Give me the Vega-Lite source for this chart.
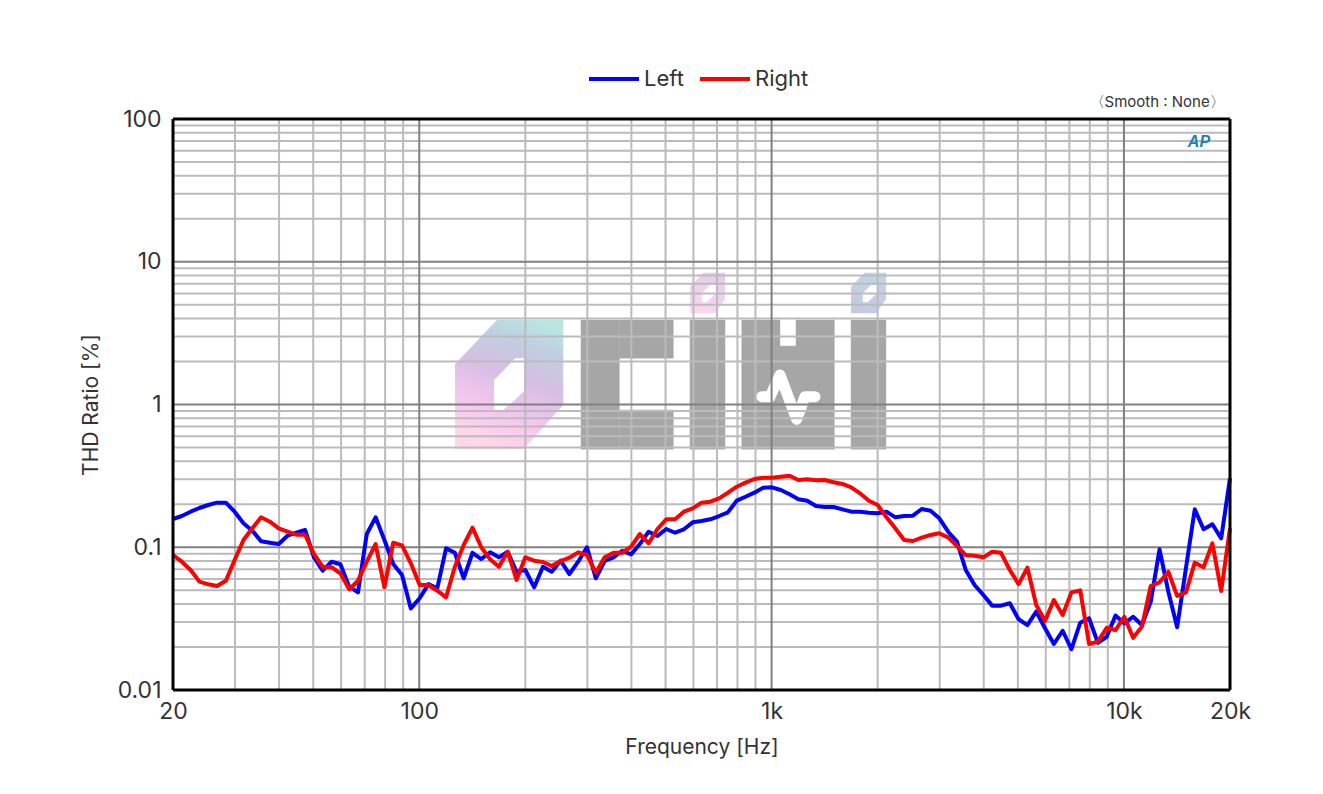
{
"$schema":"https://vega.github.io/schema/vega-lite/v6.json",
"width":1057,"height":571,
"autosize":"none",
"padding":{"left":173,"top":119,"right":93,"bottom":104},
"background":"#ffffff",
"view":{"stroke":null},
"config":{"font":"Inter"},
"datasets":{
"series":[
{"f":20,"channel":"Left","v":0.1577},{"f":21.19,"channel":"Left","v":0.1655},{"f":22.44,"channel":"Left","v":0.1775},{"f":23.77,"channel":"Left","v":0.1884},{"f":25.18,"channel":"Left","v":0.1977},{"f":26.67,"channel":"Left","v":0.2053},{"f":28.25,"channel":"Left","v":0.2053},{"f":29.92,"channel":"Left","v":0.1775},{"f":31.7,"channel":"Left","v":0.1471},{"f":33.58,"channel":"Left","v":0.1306},
{"f":35.57,"channel":"Left","v":0.11},{"f":37.67,"channel":"Left","v":0.1076},{"f":39.91,"channel":"Left","v":0.1053},{"f":42.27,"channel":"Left","v":0.1205},{"f":44.77,"channel":"Left","v":0.1264},{"f":47.43,"channel":"Left","v":0.1321},{"f":50.24,"channel":"Left","v":0.085},{"f":53.21,"channel":"Left","v":0.0685},{"f":56.37,"channel":"Left","v":0.0792},{"f":59.71,"channel":"Left","v":0.076},
{"f":63.25,"channel":"Left","v":0.053},{"f":66.99,"channel":"Left","v":0.0483},{"f":70.96,"channel":"Left","v":0.1238},{"f":75.17,"channel":"Left","v":0.162},{"f":79.62,"channel":"Left","v":0.1124},{"f":84.34,"channel":"Left","v":0.0763},{"f":89.34,"channel":"Left","v":0.0639},{"f":94.63,"channel":"Left","v":0.0373},{"f":100.24,"channel":"Left","v":0.0439},{"f":106.18,"channel":"Left","v":0.0552},
{"f":112.47,"channel":"Left","v":0.0516},{"f":119.13,"channel":"Left","v":0.0982},{"f":126.19,"channel":"Left","v":0.0915},{"f":133.67,"channel":"Left","v":0.0606},{"f":141.59,"channel":"Left","v":0.0915},{"f":149.98,"channel":"Left","v":0.0827},{"f":158.87,"channel":"Left","v":0.0921},{"f":168.28,"channel":"Left","v":0.085},{"f":178.25,"channel":"Left","v":0.093},{"f":188.81,"channel":"Left","v":0.0674},
{"f":200,"channel":"Left","v":0.0693},{"f":211.9,"channel":"Left","v":0.0524},{"f":224.4,"channel":"Left","v":0.073},{"f":237.7,"channel":"Left","v":0.0674},{"f":251.8,"channel":"Left","v":0.0805},{"f":266.7,"channel":"Left","v":0.0649},{"f":282.5,"channel":"Left","v":0.0792},{"f":299.2,"channel":"Left","v":0.1},{"f":317,"channel":"Left","v":0.0606},{"f":335.8,"channel":"Left","v":0.0801},
{"f":355.7,"channel":"Left","v":0.085},{"f":376.7,"channel":"Left","v":0.0945},{"f":399.1,"channel":"Left","v":0.0892},{"f":422.7,"channel":"Left","v":0.1053},{"f":447.7,"channel":"Left","v":0.1285},{"f":474.3,"channel":"Left","v":0.1198},{"f":502.4,"channel":"Left","v":0.1342},{"f":532.1,"channel":"Left","v":0.1264},{"f":563.7,"channel":"Left","v":0.1336},{"f":597.1,"channel":"Left","v":0.1495},
{"f":632.5,"channel":"Left","v":0.1527},{"f":669.9,"channel":"Left","v":0.157},{"f":709.6,"channel":"Left","v":0.1655},{"f":751.7,"channel":"Left","v":0.1757},{"f":796.2,"channel":"Left","v":0.2119},{"f":843.4,"channel":"Left","v":0.2259},{"f":893.4,"channel":"Left","v":0.2411},{"f":946.3,"channel":"Left","v":0.2613},{"f":1002.4,"channel":"Left","v":0.263},{"f":1061.8,"channel":"Left","v":0.2518},
{"f":1124.7,"channel":"Left","v":0.2349},{"f":1191.3,"channel":"Left","v":0.2167},{"f":1261.9,"channel":"Left","v":0.2119},{"f":1336.7,"channel":"Left","v":0.1945},{"f":1415.9,"channel":"Left","v":0.1914},{"f":1499.8,"channel":"Left","v":0.1914},{"f":1588.7,"channel":"Left","v":0.1844},{"f":1682.8,"channel":"Left","v":0.1775},{"f":1782.5,"channel":"Left","v":0.1775},{"f":1888.1,"channel":"Left","v":0.1746},
{"f":2000,"channel":"Left","v":0.173},{"f":2119,"channel":"Left","v":0.1775},{"f":2244,"channel":"Left","v":0.162},{"f":2377,"channel":"Left","v":0.1655},{"f":2518,"channel":"Left","v":0.1664},{"f":2667,"channel":"Left","v":0.1853},{"f":2825,"channel":"Left","v":0.1803},{"f":2992,"channel":"Left","v":0.1595},{"f":3170,"channel":"Left","v":0.1285},{"f":3358,"channel":"Left","v":0.1095},
{"f":3557,"channel":"Left","v":0.0693},{"f":3767,"channel":"Left","v":0.0544},{"f":3991,"channel":"Left","v":0.0463},{"f":4227,"channel":"Left","v":0.039},{"f":4477,"channel":"Left","v":0.039},{"f":4743,"channel":"Left","v":0.0405},{"f":5024,"channel":"Left","v":0.0313},{"f":5321,"channel":"Left","v":0.0285},{"f":5637,"channel":"Left","v":0.0354},{"f":5971,"channel":"Left","v":0.0271},
{"f":6325,"channel":"Left","v":0.021},{"f":6699,"channel":"Left","v":0.026},{"f":7096,"channel":"Left","v":0.0193},{"f":7517,"channel":"Left","v":0.0296},{"f":7962,"channel":"Left","v":0.0318},{"f":8434,"channel":"Left","v":0.0214},{"f":8934,"channel":"Left","v":0.0236},{"f":9463,"channel":"Left","v":0.0332},{"f":10024,"channel":"Left","v":0.0293},{"f":10618,"channel":"Left","v":0.0326},
{"f":11247,"channel":"Left","v":0.0285},{"f":11913,"channel":"Left","v":0.0415},{"f":12619,"channel":"Left","v":0.0967},{"f":13367,"channel":"Left","v":0.0488},{"f":14159,"channel":"Left","v":0.0275},{"f":14998,"channel":"Left","v":0.0716},{"f":15887,"channel":"Left","v":0.1844},{"f":16828,"channel":"Left","v":0.1336},{"f":17825,"channel":"Left","v":0.1448},{"f":18881,"channel":"Left","v":0.1155},{"f":20000,"channel":"Left","v":0.304},
{"f":20,"channel":"Right","v":0.0882},{"f":21.19,"channel":"Right","v":0.0792},{"f":22.44,"channel":"Right","v":0.0693},{"f":23.77,"channel":"Right","v":0.0574},{"f":25.18,"channel":"Right","v":0.055},{"f":26.67,"channel":"Right","v":0.0535},{"f":28.25,"channel":"Right","v":0.0583},{"f":29.92,"channel":"Right","v":0.0814},{"f":31.7,"channel":"Right","v":0.1124},{"f":33.58,"channel":"Right","v":0.1357},
{"f":35.57,"channel":"Right","v":0.1621},{"f":37.67,"channel":"Right","v":0.151},{"f":39.91,"channel":"Right","v":0.1357},{"f":42.27,"channel":"Right","v":0.1285},{"f":44.77,"channel":"Right","v":0.1224},{"f":47.43,"channel":"Right","v":0.1224},{"f":50.24,"channel":"Right","v":0.0897},{"f":53.21,"channel":"Right","v":0.073},{"f":56.37,"channel":"Right","v":0.0724},{"f":59.71,"channel":"Right","v":0.0657},
{"f":63.25,"channel":"Right","v":0.0507},{"f":66.99,"channel":"Right","v":0.0583},{"f":70.96,"channel":"Right","v":0.0792},{"f":75.17,"channel":"Right","v":0.1053},{"f":79.62,"channel":"Right","v":0.0524},{"f":84.34,"channel":"Right","v":0.1076},{"f":89.34,"channel":"Right","v":0.1032},{"f":94.63,"channel":"Right","v":0.0772},{"f":100.24,"channel":"Right","v":0.0544},{"f":106.18,"channel":"Right","v":0.0544},
{"f":112.47,"channel":"Right","v":0.0496},{"f":119.13,"channel":"Right","v":0.0446},{"f":126.19,"channel":"Right","v":0.073},{"f":133.67,"channel":"Right","v":0.1037},{"f":141.59,"channel":"Right","v":0.1371},{"f":149.98,"channel":"Right","v":0.1},{"f":158.87,"channel":"Right","v":0.0823},{"f":168.28,"channel":"Right","v":0.073},{"f":178.25,"channel":"Right","v":0.093},{"f":188.81,"channel":"Right","v":0.059},
{"f":200,"channel":"Right","v":0.085},{"f":211.9,"channel":"Right","v":0.0805},{"f":224.4,"channel":"Right","v":0.0788},{"f":237.7,"channel":"Right","v":0.0739},{"f":251.8,"channel":"Right","v":0.0801},{"f":266.7,"channel":"Right","v":0.0845},{"f":282.5,"channel":"Right","v":0.0921},{"f":299.2,"channel":"Right","v":0.0882},{"f":317,"channel":"Right","v":0.0663},{"f":335.8,"channel":"Right","v":0.085},
{"f":355.7,"channel":"Right","v":0.0915},{"f":376.7,"channel":"Right","v":0.0915},{"f":399.1,"channel":"Right","v":0.1009},{"f":422.7,"channel":"Right","v":0.1238},{"f":447.7,"channel":"Right","v":0.1066},{"f":474.3,"channel":"Right","v":0.1342},{"f":502.4,"channel":"Right","v":0.157},{"f":532.1,"channel":"Right","v":0.157},{"f":563.7,"channel":"Right","v":0.1775},{"f":597.1,"channel":"Right","v":0.1874},
{"f":632.5,"channel":"Right","v":0.2053},{"f":669.9,"channel":"Right","v":0.2085},{"f":709.6,"channel":"Right","v":0.2202},{"f":751.7,"channel":"Right","v":0.2411},{"f":796.2,"channel":"Right","v":0.2655},{"f":843.4,"channel":"Right","v":0.2833},{"f":893.4,"channel":"Right","v":0.3007},{"f":946.3,"channel":"Right","v":0.307},{"f":1002.4,"channel":"Right","v":0.307},{"f":1061.8,"channel":"Right","v":0.3121},
{"f":1124.7,"channel":"Right","v":0.3172},{"f":1191.3,"channel":"Right","v":0.296},{"f":1261.9,"channel":"Right","v":0.2992},{"f":1336.7,"channel":"Right","v":0.2944},{"f":1415.9,"channel":"Right","v":0.296},{"f":1499.8,"channel":"Right","v":0.2851},{"f":1588.7,"channel":"Right","v":0.2774},{"f":1682.8,"channel":"Right","v":0.263},{"f":1782.5,"channel":"Right","v":0.2387},{"f":1888.1,"channel":"Right","v":0.2119},
{"f":2000,"channel":"Right","v":0.1977},{"f":2119,"channel":"Right","v":0.1621},{"f":2244,"channel":"Right","v":0.1357},{"f":2377,"channel":"Right","v":0.1124},{"f":2518,"channel":"Right","v":0.1106},{"f":2667,"channel":"Right","v":0.1167},{"f":2825,"channel":"Right","v":0.1218},{"f":2992,"channel":"Right","v":0.1252},{"f":3170,"channel":"Right","v":0.1174},{"f":3358,"channel":"Right","v":0.102},
{"f":3557,"channel":"Right","v":0.0882},{"f":3767,"channel":"Right","v":0.0872},{"f":3991,"channel":"Right","v":0.085},{"f":4227,"channel":"Right","v":0.093},{"f":4477,"channel":"Right","v":0.0915},{"f":4743,"channel":"Right","v":0.0693},{"f":5024,"channel":"Right","v":0.0552},{"f":5321,"channel":"Right","v":0.0719},{"f":5637,"channel":"Right","v":0.0394},{"f":5971,"channel":"Right","v":0.0304},
{"f":6325,"channel":"Right","v":0.0427},{"f":6699,"channel":"Right","v":0.0335},{"f":7096,"channel":"Right","v":0.0483},{"f":7517,"channel":"Right","v":0.0499},{"f":7962,"channel":"Right","v":0.021},{"f":8434,"channel":"Right","v":0.0218},{"f":8934,"channel":"Right","v":0.0273},{"f":9463,"channel":"Right","v":0.0263},{"f":10024,"channel":"Right","v":0.0326},{"f":10618,"channel":"Right","v":0.0232},
{"f":11247,"channel":"Right","v":0.0278},{"f":11913,"channel":"Right","v":0.0535},{"f":12619,"channel":"Right","v":0.0568},{"f":13367,"channel":"Right","v":0.0674},{"f":14159,"channel":"Right","v":0.0456},{"f":14998,"channel":"Right","v":0.0483},{"f":15887,"channel":"Right","v":0.078},{"f":16828,"channel":"Right","v":0.0724},{"f":17825,"channel":"Right","v":0.1066},{"f":18881,"channel":"Right","v":0.0494},{"f":20000,"channel":"Right","v":0.1357}
],
"blocks":[
{"f1":287.7,"f2":369.7,"v1":0.4855,"v2":3.906},
{"f1":369.7,"f2":526,"v1":2.107,"v2":3.906},
{"f1":369.7,"f2":526,"v1":0.4855,"v2":0.9153},
{"f1":586.6,"f2":737.6,"v1":0.4855,"v2":3.906},
{"f1":822.7,"f2":1056.4,"v1":0.4855,"v2":3.906},
{"f1":1056.4,"f2":1172.7,"v1":0.4855,"v2":2.569},
{"f1":1172.7,"f2":1506.7,"v1":0.4855,"v2":3.906},
{"f1":1680.4,"f2":2112,"v1":0.4855,"v2":3.906}
],
"holes":[
{"shape":"big","f":163,"top":1.484,"bottom":0.9153},{"shape":"big","f":173.2,"top":1.722,"bottom":0.9153},{"shape":"big","f":186.9,"top":2.107,"bottom":1.075},{"shape":"big","f":198.3,"top":2.107,"bottom":1.243},
{"shape":"dot1","f":633.4,"top":6.012,"bottom":5.198},{"shape":"dot1","f":654.5,"top":6.516,"bottom":5.198},{"shape":"dot1","f":668.7,"top":6.873,"bottom":5.483},{"shape":"dot1","f":695.3,"top":6.873,"bottom":6.042},
{"shape":"dot2","f":1814,"top":6.012,"bottom":5.198},{"shape":"dot2","f":1874.6,"top":6.516,"bottom":5.198},{"shape":"dot2","f":1915.3,"top":6.873,"bottom":5.483},{"shape":"dot2","f":1991.5,"top":6.873,"bottom":6.042}
],
"pulse":[{"f":937.4,"v":1.134},{"f":989.7,"v":1.134},{"f":1056.4,"v":1.609},{"f":1178,"v":0.7876},{"f":1243.6,"v":1.134},{"f":1327.7,"v":1.134}],
"gridMinorX":[{"f":30},{"f":40},{"f":50},{"f":60},{"f":70},{"f":80},{"f":90},{"f":200},{"f":300},{"f":400},{"f":500},{"f":600},{"f":700},{"f":800},{"f":900},{"f":2000},{"f":3000},{"f":4000},{"f":5000},{"f":6000},{"f":7000},{"f":8000},{"f":9000}],
"gridMinorY":[{"v":0.02},{"v":0.03},{"v":0.04},{"v":0.05},{"v":0.06},{"v":0.07},{"v":0.08},{"v":0.09},{"v":0.2},{"v":0.3},{"v":0.4},{"v":0.5},{"v":0.6},{"v":0.7},{"v":0.8},{"v":0.9},{"v":2},{"v":3},{"v":4},{"v":5},{"v":6},{"v":7},{"v":8},{"v":9},{"v":20},{"v":30},{"v":40},{"v":50},{"v":60},{"v":70},{"v":80},{"v":90}],
"gridMajorX":[{"f":100},{"f":1000},{"f":10000}],
"gridMajorY":[{"v":0.1},{"v":1},{"v":10}],
"frameX":[{"f":20},{"f":20000}],
"frameY":[{"v":0.01},{"v":100}]
},
"layer":[
{"data":{"name":"blocks"},"mark":{"type":"rect","color":"#a6a6a6","stroke":"#a6a6a6","strokeWidth":0.4},
 "encoding":{
  "x":{"field":"f1","type":"quantitative","scale":{"type":"log","domain":[20,20000],"nice":false},
   "axis":{"values":[20,100,1000,10000,20000],"labelExpr":"datum.value==1000?'1k':datum.value==10000?'10k':datum.value==20000?'20k':datum.value","title":"Frequency [Hz]","grid":false,"ticks":false,"domain":false,"labelFontSize":23,"labelColor":"#333333","labelPadding":10,"titleFontSize":21,"titleFontWeight":"normal","titleColor":"#333333","titlePadding":13,"labelFlush":false,"labelOverlap":false}},
  "x2":{"field":"f2"},
  "y":{"field":"v1","type":"quantitative","scale":{"type":"log","domain":[0.01,100],"nice":false},
   "axis":{"values":[0.01,0.1,1,10,100],"labelExpr":"datum.value","title":"THD Ratio [%]","grid":false,"ticks":false,"domain":false,"labelFontSize":23,"labelColor":"#333333","labelPadding":12,"titleFontSize":21,"titleFontWeight":"normal","titleColor":"#333333","titlePadding":16,"labelOverlap":false}},
  "y2":{"field":"v2"}}},
{"data":{"values":[{"f":126.3,"top":1.913,"bottom":0.4855},{"f":165.9,"top":3.906,"bottom":0.4855},{"f":197.4,"top":3.906,"bottom":0.4855},{"f":256.3,"top":3.906,"bottom":0.992}]},
 "mark":{"type":"area","color":{"gradient":"linear","x1":0.4,"y1":1,"x2":0.72,"y2":0,"stops":[{"offset":0,"color":"#ffd8e8"},{"offset":0.2,"color":"#fbc8f2"},{"offset":0.55,"color":"#d8bee4"},{"offset":0.82,"color":"#bfcfe0"},{"offset":1,"color":"#b9e6e3"}]}},
 "encoding":{"x":{"field":"f","type":"quantitative"},"y":{"field":"top","type":"quantitative"},"y2":{"field":"bottom"}}},
{"data":{"values":[{"f":586.6,"top":6.687,"bottom":4.353},{"f":640,"top":8.384,"bottom":4.353},{"f":690.8,"top":8.384,"bottom":4.353},{"f":737.6,"top":8.384,"bottom":5.457}]},
 "mark":{"type":"area","color":{"gradient":"linear","x1":0.3,"y1":1,"x2":0.7,"y2":0,"stops":[{"offset":0,"color":"#fbd6f2"},{"offset":1,"color":"#e4cdea"}]}},
 "encoding":{"x":{"field":"f","type":"quantitative"},"y":{"field":"top","type":"quantitative"},"y2":{"field":"bottom"}}},
{"data":{"values":[{"f":1680.2,"top":6.687,"bottom":4.353},{"f":1833,"top":8.384,"bottom":4.353},{"f":1978.6,"top":8.384,"bottom":4.353},{"f":2112.6,"top":8.384,"bottom":5.457}]},
 "mark":{"type":"area","color":{"gradient":"linear","x1":0.3,"y1":1,"x2":0.7,"y2":0,"stops":[{"offset":0,"color":"#c4c8e2"},{"offset":1,"color":"#bfd6e6"}]}},
 "encoding":{"x":{"field":"f","type":"quantitative"},"y":{"field":"top","type":"quantitative"},"y2":{"field":"bottom"}}},
{"data":{"name":"holes"},"mark":{"type":"area","color":"#ffffff"},
 "encoding":{"x":{"field":"f","type":"quantitative"},"y":{"field":"top","type":"quantitative"},"y2":{"field":"bottom"},"detail":{"field":"shape"}}},
{"data":{"name":"pulse"},"mark":{"type":"line","color":"#ffffff","strokeWidth":11,"strokeCap":"round","strokeJoin":"round"},
 "encoding":{"x":{"field":"f","type":"quantitative"},"y":{"field":"v","type":"quantitative"}}},
{"data":{"name":"gridMinorX"},"mark":{"type":"rule","color":"#bbbbbb","strokeWidth":2},"encoding":{"x":{"field":"f","type":"quantitative"}}},
{"data":{"name":"gridMinorY"},"mark":{"type":"rule","color":"#bbbbbb","strokeWidth":2},"encoding":{"y":{"field":"v","type":"quantitative"}}},
{"data":{"name":"gridMajorX"},"mark":{"type":"rule","color":"#808080","strokeWidth":2},"encoding":{"x":{"field":"f","type":"quantitative"}}},
{"data":{"name":"gridMajorY"},"mark":{"type":"rule","color":"#808080","strokeWidth":2},"encoding":{"y":{"field":"v","type":"quantitative"}}},
{"data":{"values":[{"f":16330,"v":69,"label":"AP"}]},"mark":{"type":"text","color":"#1b7fb5","fontSize":16,"fontStyle":"italic","fontWeight":"bold","font":"Liberation Sans"},
 "encoding":{"x":{"field":"f","type":"quantitative"},"y":{"field":"v","type":"quantitative"},"text":{"field":"label"}}},
{"data":{"values":[{"f":12420,"v":131.5,"label":"〈Smooth : None〉"}]},"mark":{"type":"text","color":"#333333","fontSize":15,"font":"Inter"},
 "encoding":{"x":{"field":"f","type":"quantitative"},"y":{"field":"v","type":"quantitative"},"text":{"field":"label"}}},
{"data":{"name":"series"},"mark":{"type":"line","strokeWidth":4,"strokeJoin":"round"},
 "encoding":{"x":{"field":"f","type":"quantitative"},"y":{"field":"v","type":"quantitative"},
  "color":{"field":"channel","type":"nominal","scale":{"domain":["Left","Right"],"range":["#0000ff","#ff0000"]},
   "legend":{"title":null,"orient":"none","legendX":414,"legendY":-67,"direction":"horizontal","columns":2,"symbolType":"stroke","symbolSize":2500,"symbolStrokeWidth":4,"labelFontSize":22,"labelColor":"#333333","labelOffset":3,"columnPadding":8}}}},
{"data":{"name":"frameX"},"mark":{"type":"rule","color":"#000000","strokeWidth":3},"encoding":{"x":{"field":"f","type":"quantitative"}}},
{"data":{"name":"frameY"},"mark":{"type":"rule","color":"#000000","strokeWidth":3},"encoding":{"y":{"field":"v","type":"quantitative"}}}
]
}
